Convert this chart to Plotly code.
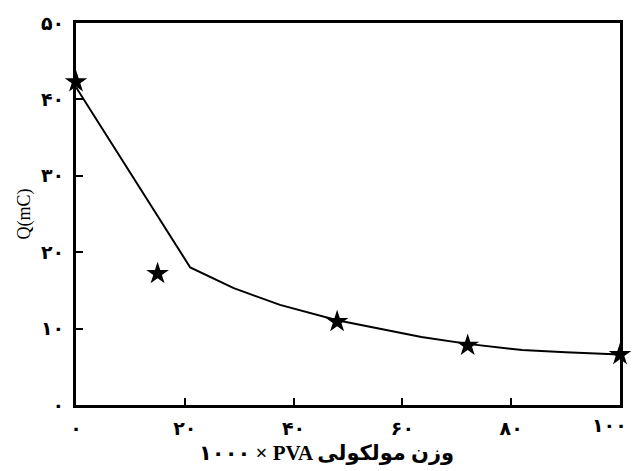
import plotly.graph_objects as go

# measured data (stars)
mw_points = [0, 15, 48, 72, 100]
q_points = [42.3, 17.2, 10.9, 7.8, 6.6]

# drawn curve
mw_curve = [0, 21, 29, 37.5, 48, 63.5, 72, 82, 90, 100]
q_curve = [41.6, 18.0, 15.3, 13.1, 11.1, 8.9, 8.0, 7.2, 6.9, 6.6]

x_tickvals = [0, 20, 40, 60, 80, 100]
x_ticktext = ["۰", "۲۰", "۴۰", "۶۰", "۸۰", "۱۰۰"]
y_tickvals = [0, 10, 20, 30, 40, 50]
y_ticktext = ["۰", "۱۰", "۲۰", "۳۰", "۴۰", "۵۰"]

# written in visual order so it renders like the original (right-to-left reading)
x_title = "۱۰۰۰ × PVA وزن مولکولی"
y_title = "Q(mC)"

font_family = "Liberation Serif, DejaVu Sans, serif"
tick_font = dict(family="DejaVu Sans", size=19, color="black", weight="bold")

fig = go.Figure()
fig.add_trace(go.Scatter(x=mw_curve, y=q_curve, mode="lines",
                         line=dict(color="black", width=2), showlegend=False,
                         cliponaxis=False))
fig.add_trace(go.Scatter(x=mw_points, y=q_points, mode="markers",
                         marker=dict(symbol="star", size=17, color="black",
                                     line=dict(width=0)),
                         showlegend=False, cliponaxis=False))

axis_common = dict(showgrid=False, zeroline=False, showline=True, linecolor="black",
                   linewidth=3, mirror=True, ticks="inside", ticklen=7, tickwidth=2,
                   tickcolor="black", ticklabeloverflow="allow", automargin=False,
                   tickfont=tick_font)

# last x label drawn separately (right-aligned at its tick so it stays inside the page)
fig.update_xaxes(range=[0, 100], tickvals=x_tickvals, ticktext=x_ticktext[:-1] + [""],
                 ticklabelstandoff=4, **axis_common)
fig.update_yaxes(range=[0, 50], tickvals=y_tickvals, ticktext=y_ticktext,
                 title=dict(text=y_title, font=dict(family=font_family, size=18, color="black"),
                            standoff=6),
                 ticklabelstandoff=5, **axis_common)

fig.add_annotation(text=x_ticktext[-1], x=x_tickvals[-1], xref="x", yref="paper", y=0,
                   xanchor="right", yanchor="top", xshift=9, yshift=-7, showarrow=False,
                   font=tick_font)

fig.add_annotation(text=x_title, xref="paper", yref="paper", x=0.46, y=-0.088,
                   xanchor="center", yanchor="top", showarrow=False,
                   font=dict(family=font_family, size=21, color="black", weight="bold"))

fig.update_layout(width=634, height=471, margin=dict(l=76, r=14, t=23, b=66),
                  paper_bgcolor="white", plot_bgcolor="white")

fig.write_html("out.html")
